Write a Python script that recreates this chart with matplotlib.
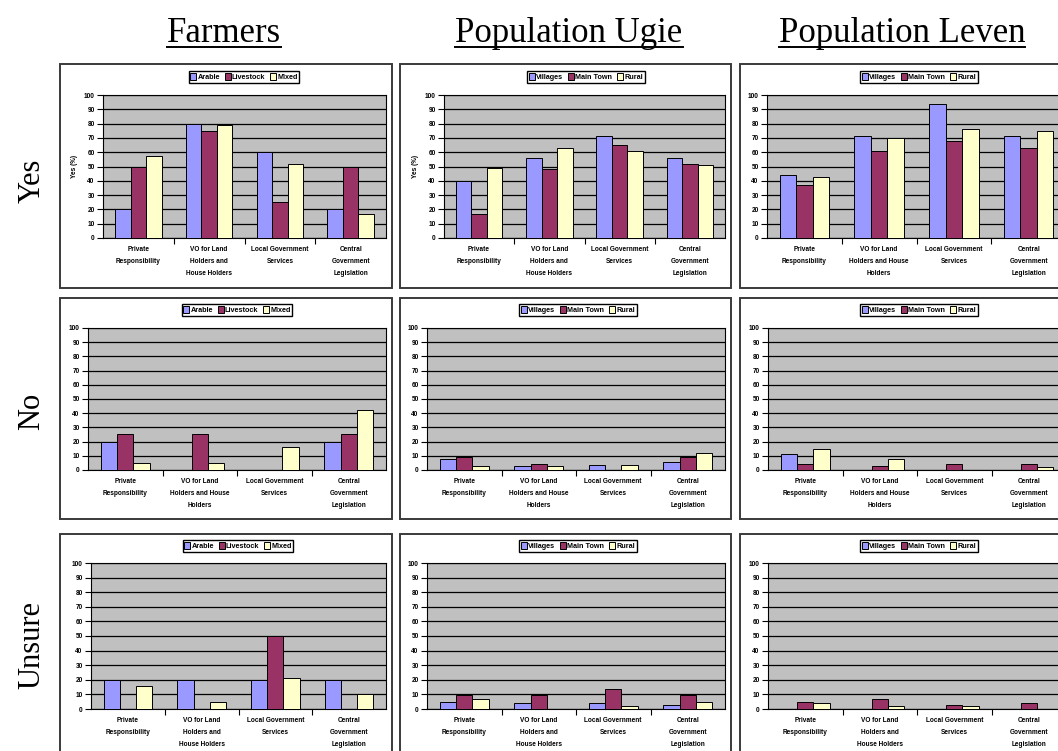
import numpy as np
import matplotlib.pyplot as plt
from matplotlib.patches import Rectangle
from matplotlib.lines import Line2D

W, H = 1058, 751

# category labels (two wrappings used in the original)
cats_a = ["Private\nResponsibility", "VO for Land\nHolders and\nHouse Holders",
          "Local Government\nServices", "Central\nGovernment\nLegislation"]
cats_b = ["Private\nResponsibility", "VO for Land\nHolders and House\nHolders",
          "Local Government\nServices", "Central\nGovernment\nLegislation"]

farm_series = ["Arable", "Livestock", "Mixed"]
pop_series = ["Villages", "Main Town", "Rural"]

# values (%), one list per series: order = cats
farmers_yes = [[20, 80, 60, 20], [50, 75, 25, 50], [57, 79, 52, 17]]
ugie_yes = [[40, 56, 71, 56], [17, 48, 65, 52], [49, 63, 61, 51]]
leven_yes = [[44, 71, 94, 71], [37, 61, 68, 63], [43, 70, 76, 75]]

farmers_no = [[20, 0, 0, 20], [25, 25, 0, 25], [5, 5, 16, 42]]
ugie_no = [[7.5, 2.5, 3.5, 5.5], [9, 4.5, 0, 9], [2.5, 2.5, 3.5, 12]]
leven_no = [[11, 0, 0, 0], [4.5, 3, 4.5, 4.5], [15, 7.5, 0, 2]]

farmers_unsure = [[20, 20, 20, 20], [0, 0, 50, 0], [16, 5, 21, 10]]
ugie_unsure = [[5, 4, 4, 3], [9.5, 9.5, 13.5, 9.5], [7, 0, 2, 5]]
leven_unsure = [[0, 0, 0, 0], [5, 7, 3, 4], [4, 2, 2, 0]]

colors = ["#9999FF", "#993366", "#FFFFCC"]

col_titles = ["Farmers", "Population Ugie", "Population Leven"]
row_titles = ["Yes", "No", "Unsure"]

# panel frames in pixels (left, top, right, bottom)
panel_x = [(60, 392), (400, 731), (740, 1072)]
panel_y = [(64, 288), (298, 519), (534, 756)]
# plot areas in pixels
plot_x = [[(103, 386), (444, 725), (767, 1066)],
          [(88, 386), (427, 725), (768, 1066)],
          [(91, 386), (427, 725), (768, 1066)]]
plot_y = [(95, 238), (328, 470), (563, 709)]
legend_y = [77, 310, 546]
legend_x = [[244, 586, 919], [237, 578, 919], [238, 578, 919]]

panels = [
    [(farmers_yes, farm_series, cats_a, "Yes (%)"),
     (ugie_yes, pop_series, cats_a, "Yes (%)"),
     (leven_yes, pop_series, cats_b, None)],
    [(farmers_no, farm_series, cats_b, None),
     (ugie_no, pop_series, cats_b, None),
     (leven_no, pop_series, cats_b, None)],
    [(farmers_unsure, farm_series, cats_a, None),
     (ugie_unsure, pop_series, cats_a, None),
     (leven_unsure, pop_series, cats_a, None)],
]


def fbox(x0, y0, x1, y1):
    return [x0 / W, 1 - y1 / H, (x1 - x0) / W, (y1 - y0) / H]


fig = plt.figure(figsize=(W / 100, H / 100), dpi=100)
fig.patch.set_facecolor("white")

small = dict(family="Liberation Sans", size=4.7, weight="bold")

for r in range(3):
    for c in range(3):
        px0, px1 = panel_x[c]
        py0, py1 = panel_y[r]
        b = fbox(px0, py0, px1, py1)
        fig.add_artist(Rectangle((b[0], b[1]), b[2], b[3], transform=fig.transFigure,
                                 facecolor="white", edgecolor="#3a3a3a", lw=1.4, zorder=-1))

        vals, series, cats, ylab = panels[r][c]
        ax = fig.add_axes(fbox(plot_x[r][c][0], plot_y[r][0], plot_x[r][c][1], plot_y[r][1]))
        ax.set_facecolor("#C0C0C0")
        x = np.arange(len(cats))
        bw = 0.22
        handles = []
        for i, s in enumerate(series):
            h = ax.bar(x + (i - 1) * bw, vals[i], bw, color=colors[i],
                       edgecolor="black", lw=0.7, label=s, zorder=3)
            handles.append(h)
        ax.set_xlim(-0.5, 3.5)
        ax.set_ylim(0, 100)
        ax.set_yticks(np.arange(0, 101, 10))
        ax.yaxis.grid(True, color="black", lw=0.9)
        ax.set_axisbelow(True)
        for sp in ax.spines.values():
            sp.set_color("black")
            sp.set_linewidth(0.8)
        ax.set_xticks(x)
        ax.set_xticklabels(cats, linespacing=2.0, **small)
        ax.set_xticks([0.5, 1.5, 2.5], minor=True)
        ax.tick_params(axis="x", which="major", length=0, pad=6)
        ax.tick_params(axis="x", which="minor", length=4, width=0.8, direction="out")
        ax.tick_params(axis="y", length=4, width=0.8, direction="out", pad=2)
        for lab in ax.get_yticklabels():
            lab.set_family("Liberation Sans")
            lab.set_size(4.7)
            lab.set_weight("bold")
        if ylab:
            ax.set_ylabel(ylab, labelpad=4, **small)

        fig.legend(handles=handles, labels=series, loc="center",
                   bbox_to_anchor=(legend_x[r][c] / W, 1 - legend_y[r] / H), ncol=3,
                   prop=dict(family="Liberation Sans", size=5.2, weight="bold"), frameon=True,
                   fancybox=False, edgecolor="black", framealpha=1,
                   handlelength=0.8, handleheight=1.0, handletextpad=0.15,
                   columnspacing=0.7, borderpad=0.25, borderaxespad=0)

# column headers
head_x = [224, 569, 902]
fig.canvas.draw()
renderer = fig.canvas.get_renderer()
for c, t in enumerate(col_titles):
    txt = fig.text(head_x[c] / W, 1 - 42 / H, t, ha="center", va="baseline",
                   family="Liberation Serif", size=25)
    bb = txt.get_window_extent(renderer)
    fig.add_artist(Line2D([bb.x0 / W, bb.x1 / W], [1 - 47 / H, 1 - 47 / H],
                          transform=fig.transFigure, color="black", lw=1.4))

row_y = [181, 411, 645]
for r, t in enumerate(row_titles):
    fig.text(32 / W, 1 - row_y[r] / H, t, ha="center", va="center", rotation=90,
             family="Liberation Serif", size=22)

fig.savefig("out.png", dpi=100)
